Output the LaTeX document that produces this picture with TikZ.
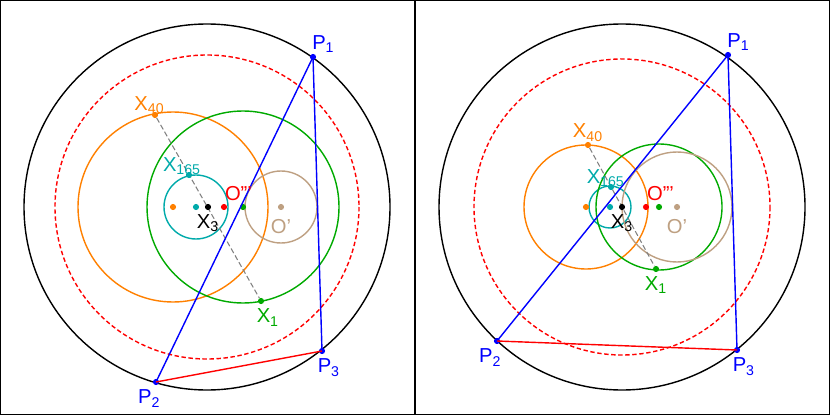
\documentclass[tikz,border=0pt]{standalone}
\usepackage{fontspec}
\setmainfont{Liberation Sans}
\usetikzlibrary{positioning}
\definecolor{cOrange}{RGB}{255,128,0}
\definecolor{cTeal}{RGB}{0,170,170}
\definecolor{cGreen}{RGB}{0,170,0}
\definecolor{cBrown}{RGB}{190,160,130}
\tikzset{
    pt/.style={circle, fill, inner sep=0pt, minimum size=3.5pt},
    lbl/.style={inner sep=1pt, font=\fontsize{11.5}{13}\selectfont},
    circ/.style={line width=0.8pt},
    side/.style={line width=0.8pt},
    dash_circ/.style={circ, red, dash pattern=on 2.5pt off 1.5pt},
    axis_line/.style={gray, dash pattern=on 3pt off 1.5pt, line width=0.6pt},
}
\begin{document}
\begin{tikzpicture}[x=0.02cm, y=-0.02cm]
      \useasboundingbox (0,0) rectangle (830,415);
      \draw [line width=0.6pt] (0.5,0.5) rectangle (414.5,414.5);
      \draw [line width=0.6pt] (415.5,0.5) rectangle (829.5,414.5);

      % left panel
      \coordinate (l_o) at (207,207);
      \draw [circ] (l_o) circle (183);
      \draw [dash_circ] (l_o) circle (152);
      \draw [circ, cOrange] (173,207) circle (95);
      \draw [circ, cTeal] (196,207) circle (32);
      \draw [circ, cGreen] (243,207) circle (96);
      \draw [circ, cBrown] (281,207) circle (36);

      \node (l_x40) [pt, cOrange] at (155,115) {};
      \node (l_x1) [pt, cGreen] at (261,301) {};
      \draw [axis_line] (l_x40) -- (l_x1);

      \node (l_c40) [pt, cOrange] at (173,207) {};
      \node (l_x165) [pt, cTeal] at (189,175) {};
      \node (l_c165) [pt, cTeal] at (196,207) {};
      \node (l_x3) [pt, black] at (208,207) {};
      \node (l_o3) [pt, red] at (224,207) {};
      \node (l_c1) [pt, cGreen] at (243,207) {};
      \node (l_oo) [pt, cBrown] at (281,207) {};

      \node (l_p1) [pt, blue] at (313,57) {};
      \node (l_p2) [pt, blue] at (156,382) {};
      \node (l_p3) [pt, blue] at (322,351) {};
      \draw [side, blue] (l_p1.center) -- (l_p2.center);
      \draw [side, blue] (l_p1.center) -- (l_p3.center);
      \draw [side, red] (l_p2.center) -- (l_p3.center);

      \node [lbl, blue, above right=0pt and -3pt of l_p1] {P\textsubscript{1}};
      \node [lbl, blue, below left=2pt and -5pt of l_p2] {P\textsubscript{2}};
      \node [lbl, blue, below right=2pt and -5pt of l_p3] {P\textsubscript{3}};
      \node [lbl, cGreen, below right=2pt and -5pt of l_x1] {X\textsubscript{1}};
      \node [lbl, cOrange, above left=-2pt and -8pt of l_x40] {X\textsubscript{40}};
      \node [lbl, cTeal, above=-3pt of l_x165, xshift=-4pt] {X\textsubscript{165}};
      \node [lbl, black, below=1pt of l_x3] {X\textsubscript{3}};
      \node [lbl, red, above right=1pt and -2pt of l_o3] {O'''};
      \node [lbl, cBrown, below=4pt of l_oo] {O'};

      % right panel
      \coordinate (r_o) at (622,207);
      \draw [circ] (r_o) circle (183);
      \draw [dash_circ] (r_o) circle (148);
      \draw [circ, cOrange] (586,207) circle (62);
      \draw [circ, cTeal] (610,207) circle (21);
      \draw [circ, cGreen] (659,207) circle (63);
      \draw [circ, cBrown] (677,207) circle (55);

      \node (r_x40) [pt, cOrange] at (588,145) {};
      \node (r_x1) [pt, cGreen] at (656,269) {};
      \draw [axis_line] (r_x40) -- (r_x1);

      \node (r_c40) [pt, cOrange] at (586,207) {};
      \node (r_x165) [pt, cTeal] at (611,187) {};
      \node (r_c165) [pt, cTeal] at (610,207) {};
      \node (r_x3) [pt, black] at (622,207) {};
      \node (r_o3) [pt, red] at (646,207) {};
      \node (r_c1) [pt, cGreen] at (659,207) {};
      \node (r_oo) [pt, cBrown] at (677,207) {};

      \node (r_p1) [pt, blue] at (728,55) {};
      \node (r_p2) [pt, blue] at (497,341) {};
      \node (r_p3) [pt, blue] at (737,350) {};
      \draw [side, blue] (r_p1.center) -- (r_p2.center);
      \draw [side, blue] (r_p1.center) -- (r_p3.center);
      \draw [side, red] (r_p2.center) -- (r_p3.center);

      \node [lbl, blue, above right=0pt and -3pt of r_p1] {P\textsubscript{1}};
      \node [lbl, blue, below left=2pt and -5pt of r_p2] {P\textsubscript{2}};
      \node [lbl, blue, below right=2pt and -5pt of r_p3] {P\textsubscript{3}};
      \node [lbl, cGreen, below=1pt of r_x1] {X\textsubscript{1}};
      \node [lbl, cOrange, above=-1pt of r_x40] {X\textsubscript{40}};
      \node [lbl, cTeal, above=-3pt of r_x165, xshift=-3pt] {X\textsubscript{165}};
      \node [lbl, black, below=1pt of r_x3] {X\textsubscript{3}};
      \node [lbl, red, above right=1pt and -2pt of r_o3] {O'''};
      \node [lbl, cBrown, below=4pt of r_oo] {O'};
\end{tikzpicture}
\end{document}
